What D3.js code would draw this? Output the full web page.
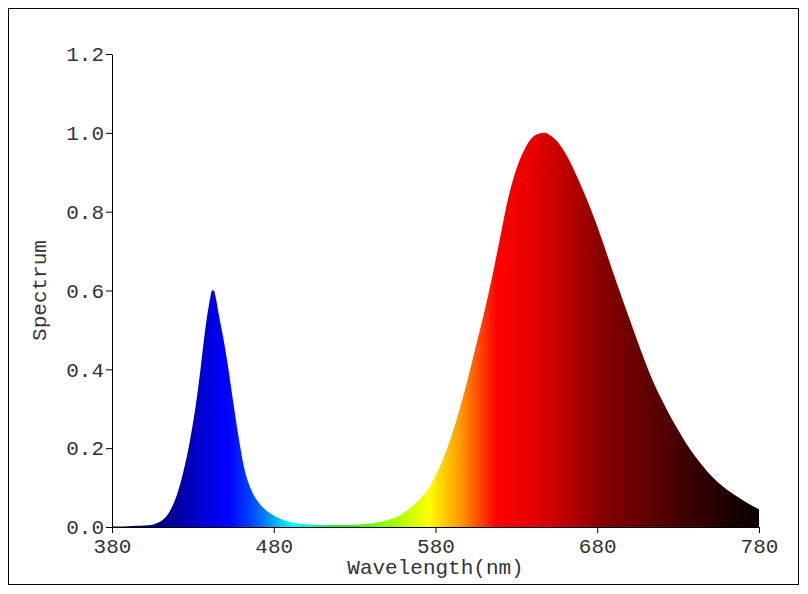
<!DOCTYPE html>
<html>
<head>
<meta charset="utf-8">
<script src="https://cdn.jsdelivr.net/npm/d3@7"></script>
<style>
  body { margin: 0; background: #fff; }
  svg text { font-family: "Liberation Mono", "Courier New", monospace; }
</style>
</head>
<body>
<div id="viz"></div>
<script>
// spectrum (nm, relative power)
let wavelengths = [380, 385, 390, 395, 400, 405, 408, 412, 416, 420, 424, 428, 432, 435, 437, 440, 442, 443, 444, 446, 449, 452, 455, 458, 462, 466, 471, 476, 482, 490, 500, 510, 520, 530, 540, 550, 560, 565, 570, 575, 580, 585, 590, 595, 600, 605, 610, 615, 620, 625, 630, 635, 640, 645, 648, 650, 655, 660, 665, 670, 675, 680, 685, 690, 695, 700, 705, 710, 715, 720, 725, 730, 735, 740, 745, 750, 755, 760, 765, 770, 775, 780];
let spectrum = [0.001, 0.001, 0.002, 0.003, 0.004, 0.006, 0.010, 0.020, 0.042, 0.080, 0.138, 0.215, 0.315, 0.41, 0.48, 0.565, 0.60, 0.60, 0.585, 0.54, 0.475, 0.40, 0.315, 0.235, 0.145, 0.095, 0.06, 0.04, 0.025, 0.013, 0.007, 0.005, 0.005, 0.006, 0.009, 0.017, 0.035, 0.051, 0.07, 0.093, 0.13, 0.176, 0.232, 0.300, 0.376, 0.459, 0.542, 0.634, 0.735, 0.835, 0.908, 0.958, 0.989, 0.999, 1.0, 0.996, 0.979, 0.95, 0.911, 0.866, 0.817, 0.763, 0.704, 0.643, 0.585, 0.527, 0.47, 0.415, 0.365, 0.322, 0.282, 0.246, 0.212, 0.182, 0.156, 0.132, 0.112, 0.095, 0.081, 0.068, 0.056, 0.045];

let x_ticks = [380, 480, 580, 680, 780];
let y_ticks = [0, 0.2, 0.4, 0.6, 0.8, 1.0, 1.2];

// colour of each wavelength band
let band_nm = [380, 400, 412, 425, 435, 445, 452, 465, 475, 485, 492, 502, 512, 525, 545, 565, 576, 586, 596, 606, 618, 640, 660, 680, 700, 720, 740, 760, 780];
let band_color = ["#000040", "#000070", "#00008c", "#0000b0", "#0000d0", "#0000f0", "#0000ff", "#0040ff", "#0082ff", "#00d2ff", "#00ffff", "#00ffc8", "#00ff78", "#28ff00", "#78ff00", "#d2ff00", "#ffff00", "#ffc800", "#ff9600", "#ff5000", "#ff0000", "#e60000", "#be0000", "#8c0000", "#6e0000", "#550000", "#370000", "#1e0000", "#0a0000"];

window.onload = function () {
    chart()
}

function chart() {
    const width = 808, height = 594;
    const data = wavelengths.map((w, i) => ({nm: w, v: spectrum[i]}));

    const x = d3.scaleLinear().domain([380, 780]).range([112, 759]);
    const y = d3.scaleLinear().domain([0, 1.2]).range([527, 54]);

    const svg = d3.select("#viz")
        .append("svg")
        .attr("width", width)
        .attr("height", height);

    // frame round the whole figure
    svg.append("rect")
        .attr("x", 8.5).attr("y", 8.5)
        .attr("width", 790).attr("height", 576)
        .attr("fill", "none")
        .attr("stroke", "#000")
        .attr("stroke-width", 1);

    const grad = svg.append("defs").append("linearGradient")
        .attr("id", "rainbow")
        .attr("gradientUnits", "userSpaceOnUse")
        .attr("x1", x(380)).attr("x2", x(780))
        .attr("y1", 0).attr("y2", 0);
    grad.selectAll("stop")
        .data(band_nm)
        .join("stop")
        .attr("offset", d => (d - 380) / 400)
        .attr("stop-color", (d, i) => band_color[i]);

    const area = d3.area()
        .x(d => x(d.nm))
        .y0(y(0))
        .y1(d => y(d.v))
        .curve(d3.curveMonotoneX);

    svg.append("path")
        .datum(data)
        .attr("d", area)
        .attr("fill", "url(#rainbow)");

    const xAxis = svg.append("g")
        .attr("transform", "translate(0," + y(0) + ")")
        .call(d3.axisBottom(x).tickValues(x_ticks).tickSize(6).tickSizeOuter(0).tickFormat(d3.format("d")));

    const yAxis = svg.append("g")
        .attr("transform", "translate(" + x(380) + ",0)")
        .call(d3.axisLeft(y).tickValues(y_ticks).tickSize(6).tickSizeOuter(0).tickFormat(d3.format(".1f")));

    svg.selectAll(".tick text")
        .attr("font-family", "Liberation Mono, monospace")
        .attr("font-size", 21)
        .attr("fill", "#333");
    xAxis.selectAll(".tick text").attr("dy", "0.85em").attr("y", 8);
    yAxis.selectAll(".tick text").attr("x", -8);
    svg.selectAll(".domain, .tick line").attr("stroke", "#000");

    svg.append("text")
        .attr("x", (x(380) + x(780)) / 2)
        .attr("y", 574)
        .attr("text-anchor", "middle")
        .attr("font-size", 21)
        .attr("fill", "#333")
        .text("Wavelength(nm)");

    svg.append("text")
        .attr("transform", "translate(46," + (y(0) + y(1.2)) / 2 + ") rotate(-90)")
        .attr("text-anchor", "middle")
        .attr("font-size", 21)
        .attr("fill", "#333")
        .text("Spectrum");
}
</script>
</body>
</html>
